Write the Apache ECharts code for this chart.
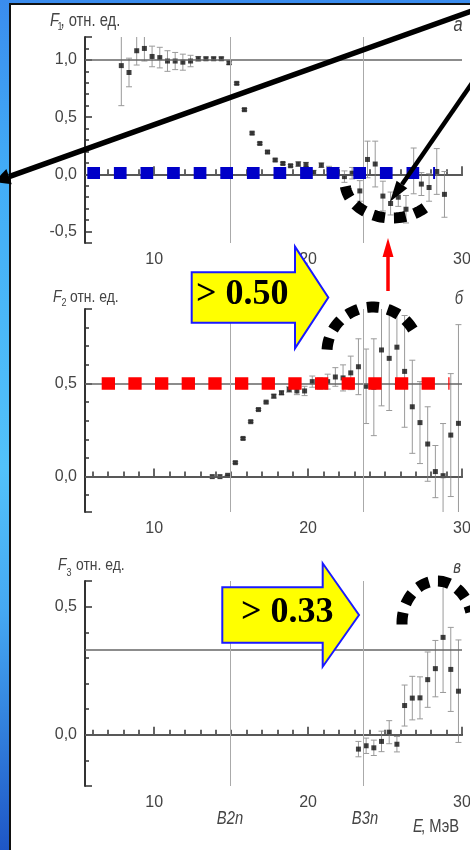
<!DOCTYPE html>
<html>
<head>
<meta charset="utf-8">
<script src="https://cdn.jsdelivr.net/npm/echarts@6/dist/echarts.min.js"></script>
<style>
  body { margin: 0; }
  #wrap {
    position: relative; width: 470px; height: 850px; overflow: hidden;
    background: linear-gradient(to bottom, #3a8cee 0%, #42acf6 20%, #52c2fa 55%, #45a8f2 72%, #1e56c6 100%);
  }
  #sheet {
    position: absolute; left: 9px; top: 3px; right: 0; bottom: 0; background: #fff;
    border-left: 2px solid #111; border-top: 2px solid #111;
  }
  #chart { position: absolute; left: 0; top: 0; width: 470px; height: 850px; }
</style>
</head>
<body>
<div id="wrap"><div id="sheet"></div><div id="chart"></div></div>
<script>
// панель а: F1 (E, МэВ)
const e1 = [7.86, 8.36, 8.86, 9.36, 9.86, 10.36, 10.86, 11.36, 11.86, 12.36, 12.86, 13.36, 13.86, 14.36, 14.86,
  15.36, 15.86, 16.36, 16.86, 17.36, 17.86, 18.36, 18.86, 19.36, 19.86, 20.36, 20.86, 21.36, 21.86, 22.36,
  22.86, 23.36, 23.86, 24.36, 24.86, 25.36, 25.86, 26.36, 26.86, 27.36, 27.86, 28.36, 28.86]
const f1 = [0.95, 0.89, 1.08, 1.10, 1.03, 1.02, 0.99, 0.99, 0.98, 0.99, 1.01, 1.01, 1.01, 1.01, 0.975,
  0.795, 0.565, 0.36, 0.27, 0.195, 0.125, 0.095, 0.075, 0.09, 0.085, 0.015, 0.08, 0.04, 0.02, -0.02,
  0.01, -0.145, 0.13, 0.09, -0.19, -0.255, -0.20, -0.305, 0.03, -0.085, -0.115, 0.025, -0.175]
const f1Err = [0.35, 0.125, 0.125, 0.11, 0.09, 0.09, 0.09, 0.075, 0.07, 0.05, 0.02, 0.015, 0.015, 0.015, 0.015,
  0.01, 0.01, 0.01, 0.01, 0.01, 0.01, 0.01, 0.01, 0.02, 0.02, 0.02, 0.02, 0.03, 0.04, 0.05,
  0.05, 0.09, 0.16, 0.2, 0.13, 0.1, 0.08, 0.12, 0.2, 0.1, 0.12, 0.2, 0.2]

// панель б: F2
const e2 = [13.77, 14.27, 14.77, 15.27, 15.77, 16.27, 16.77, 17.27, 17.77, 18.27, 18.77, 19.27, 19.77, 20.27,
  20.77, 21.27, 21.77, 22.27, 22.77, 23.27, 23.77, 24.27, 24.77, 25.27, 25.77, 26.27, 26.77, 27.27, 27.77,
  28.27, 28.77, 29.27, 29.77]
const f2 = [0, 0, 0.007, 0.075, 0.205, 0.295, 0.36, 0.40, 0.432, 0.45, 0.468, 0.46, 0.46, 0.51,
  0.50, 0.51, 0.535, 0.53, 0.557, 0.59, 0.485, 0.48, 0.68, 0.635, 0.695, 0.565, 0.375, 0.29, 0.175,
  0.027, 0.005, 0.223, 0.286]
const f2Err = [0, 0, 0, 0.005, 0.005, 0.005, 0.005, 0.005, 0.01, 0.01, 0.015, 0.02, 0.025, 0.03,
  0.03, 0.04, 0.05, 0.07, 0.09, 0.15, 0.2, 0.26, 0.3, 0.28, 0.2, 0.3, 0.25, 0.22, 0.2,
  0.14, 0.28, 0.33, 0.53]

// панель в: F3
const e3 = [23.27, 23.77, 24.27, 24.77, 25.27, 25.77, 26.27, 26.77, 27.27, 27.77, 28.27, 28.77, 29.27, 29.77]
const f3 = [-0.056, -0.043, -0.051, -0.026, 0.010, -0.037, 0.114, 0.143, 0.144, 0.215, 0.258, 0.38, 0.255, 0.17]
const f3Err = [0.03, 0.03, 0.03, 0.04, 0.045, 0.03, 0.08, 0.085, 0.082, 0.108, 0.11, 0.215, 0.164, 0.2]

// пороги B2n, B3n и опорные уровни
const thresholds = [14.95, 23.57]
const levels = [[1.0, 0.0], [0.5, 0.0], [0.33, 0.0]]
const xTickLabels = [10, 20, 30]
const yTickLabels = [[-0.5, 0, 0.5, 1], [0, 0.5], [0, 0.5]]

const FONT = '"Liberation Sans", Arial, sans-serif'
const SERIF = '"Liberation Serif", "Times New Roman", serif'
const INK = '#444'
const NARROW = 0.82   // исходный рисунок вытянут по вертикали

const grids = [
  { left: 85, top: 37, width: 377, height: 206 },
  { left: 85, top: 309, width: 377, height: 203 },
  { left: 85, top: 581, width: 377, height: 205 }
]
const yRanges = [[-0.6, 1.2, 4], [-0.19, 0.9, 2], [-0.2, 0.6, 2]]

const axisLineStyle = { color: '#333', width: 2 }
const tickStyle = { color: '#333', width: 1.5 }

const xAxes = grids.map((g, i) => ({
  type: 'value', gridIndex: i, min: 5.5, max: 30, splitNumber: 2,
  axisLine: { lineStyle: axisLineStyle },
  axisTick: { inside: true, length: 8, lineStyle: tickStyle },
  minorTick: { show: true, splitNumber: 10, length: 5, lineStyle: tickStyle },
  splitLine: { show: false },
  axisLabel: {
    margin: 9, color: INK, fontSize: 16, fontFamily: FONT,
    formatter: v => xTickLabels.includes(Math.round(v * 100) / 100) ? String(v) : ''
  }
}))

const yAxes = yRanges.map(([min, max, split], i) => ({
  type: 'value', gridIndex: i, min, max, splitNumber: split,
  axisLine: { show: true, lineStyle: axisLineStyle },
  axisTick: { show: true, inside: true, length: 7, lineStyle: tickStyle },
  minorTick: { show: true, splitNumber: 5, length: 4, lineStyle: tickStyle },
  splitLine: { show: false },
  axisLabel: {
    margin: 8, color: INK, fontSize: 16, fontFamily: FONT,
    formatter: v => {
      const r = Math.round(v * 100) / 100
      return yTickLabels[i].includes(r) ? r.toFixed(1).replace('.', ',') : ''
    }
  }
}))

// планки погрешностей
const errorBars = (i, xs, ys, errs) => ({
  type: 'custom', xAxisIndex: i, yAxisIndex: i, z: 2, silent: true, clip: true,
  data: xs.map((x, k) => [x, ys[k] - errs[k], ys[k] + errs[k]]),
  renderItem: (params, api) => {
    const lo = api.coord([api.value(0), api.value(1)])
    const hi = api.coord([api.value(0), api.value(2)])
    const st = { stroke: '#9a9a9a', lineWidth: 1 }
    return {
      type: 'group',
      children: [
        { type: 'line', shape: { x1: lo[0], y1: lo[1], x2: hi[0], y2: hi[1] }, style: st },
        { type: 'line', shape: { x1: lo[0] - 3, y1: lo[1], x2: lo[0] + 3, y2: lo[1] }, style: st },
        { type: 'line', shape: { x1: hi[0] - 3, y1: hi[1], x2: hi[0] + 3, y2: hi[1] }, style: st }
      ]
    }
  }
})

const points = (i, xs, ys) => ({
  type: 'scatter', xAxisIndex: i, yAxisIndex: i, z: 3, silent: true,
  symbol: 'rect', symbolSize: 5, itemStyle: { color: '#111' },
  data: xs.map((x, k) => [x, ys[k]])
})

// опорные линии (горизонтальные уровни и вертикальные пороги)
const guides = i => ({
  type: 'line', xAxisIndex: i, yAxisIndex: i, z: 1, data: [],
  markLine: {
    silent: true, symbol: 'none', label: { show: false }, animation: false,
    data: [
      ...levels[i].map(v => ({ yAxis: v, lineStyle: { color: '#666', width: 1.5, type: 'solid' } })),
      ...thresholds.map(v => ({ xAxis: v, lineStyle: { color: '#aaa', width: 1, type: 'solid' } }))
    ]
  }
})

// пунктир-подсветка уровней
const dashLevel = (i, from, to, y, color, width, dash) => ({
  type: 'line', xAxisIndex: i, yAxisIndex: i, z: 5, data: [],
  markLine: {
    silent: true, symbol: 'none', label: { show: false }, animation: false,
    lineStyle: { color, width, type: dash, cap: 'butt' },
    data: [[{ coord: [from, y] }, { coord: [to, y] }]]
  }
})

// --- аннотации ---
function arrow(x1, y1, x2, y2, width, headLen, headW, color) {
  const a = Math.atan2(y2 - y1, x2 - x1)
  const bx = x2 - headLen * Math.cos(a)
  const by = y2 - headLen * Math.sin(a)
  const px = -Math.sin(a) * headW / 2
  const py = Math.cos(a) * headW / 2
  return [
    { type: 'line', z: 100, shape: { x1, y1, x2: bx, y2: by }, style: { stroke: color, lineWidth: width } },
    { type: 'polygon', z: 100, shape: { points: [[x2, y2], [bx + px, by + py], [bx - px, by - py]] }, style: { fill: color } }
  ]
}

function dashedArc(cx, cy, rx, ry, a0, a1) {
  const pts = []
  for (let k = 0; k <= 48; k++) {
    const a = (a0 + (a1 - a0) * k / 48) * Math.PI / 180
    pts.push([cx + rx * Math.cos(a), cy + ry * Math.sin(a)])
  }
  return {
    type: 'polyline', z: 100, shape: { points: pts },
    style: { stroke: '#000', fill: null, lineWidth: 11, lineDash: [12, 9], lineCap: 'butt' }
  }
}

function bigArrow(pts, text, tx, ty, size) {
  return [
    { type: 'polygon', z: 100, shape: { points: pts }, style: { fill: '#ffff00', stroke: '#1a1aff', lineWidth: 2 } },
    {
      type: 'text', z: 101, x: tx, y: ty,
      style: {
        text, fill: '#000', fontFamily: SERIF, fontWeight: 'bold', fontSize: size,
        align: 'left', textAlign: 'left', verticalAlign: 'middle', textVerticalAlign: 'middle'
      }
    }
  ]
}

function label(text, x, y, size, opts = {}) {
  return {
    type: 'text', z: 50, x, y, scaleX: NARROW,
    style: Object.assign({
      text, fill: INK, fontFamily: FONT, fontSize: size,
      align: 'left', textAlign: 'left', verticalAlign: 'middle', textVerticalAlign: 'middle'
    }, opts)
  }
}

const italic = { fontStyle: 'italic' }
const centered = { align: 'center', textAlign: 'center', fontStyle: 'italic' }

const graphics = [
  // подписи осей
  label('F', 50, 20.5, 18, italic), label('1', 57.5, 27, 11), label(', отн. ед.', 60.5, 21.5, 18),
  label('F', 53, 297, 17, italic), label('2', 61.5, 302.5, 11), label('отн. ед.', 70, 297, 17),
  label('F', 58, 565.5, 17, italic), label('3', 66.5, 573, 11), label('отн. ед.', 76, 565.5, 17),
  label('а', 458, 25.5, 20, centered),
  label('б', 459, 298.5, 18, centered),
  label('в', 457, 568, 18, centered),
  label('B2n', 230, 818.5, 18, centered),
  label('B3n', 365, 818.5, 18, centered),
  label('E', 413, 827, 18, italic), label(', МэВ', 421, 827, 18),

  // пунктирные дуги
  dashedArc(392, 182, 47, 36, 173, 40),
  dashedArc(373, 352, 46, 45, 183, 340),
  dashedArc(437, 623, 35, 42, 178, 345),

  // жёлтые стрелки
  ...bigArrow([[191.7, 272.3], [295, 272.3], [295, 246.7], [328.3, 297.5], [295, 348.3], [295, 322.7], [191.7, 322.7]],
    '> 0.50', 196, 294.5, 36),
  ...bigArrow([[222.3, 587.3], [322.7, 587.3], [322.7, 563.3], [359, 615], [322.7, 666.7], [322.7, 642.7], [222.3, 642.7]],
    '> 0.33', 241, 612.5, 36),

  // чёрные и красная стрелки
  ...arrow(478, 8.8, -6, 182, 5.5, 16, 16, '#000'),
  ...arrow(473, 81.7, 390, 201.7, 4.5, 21, 13, '#000'),
  ...arrow(388, 291, 388, 238, 3.5, 19, 11, '#ff0000')
]

const chart = echarts.init(document.getElementById('chart'), null, { renderer: 'canvas' })
chart.setOption({
  backgroundColor: 'transparent',
  animation: false,
  grid: grids.map(g => Object.assign({ containLabel: false, outerBoundsMode: 'none' }, g)),
  xAxis: xAxes,
  yAxis: yAxes,
  series: [
    guides(0), guides(1), guides(2),
    errorBars(0, e1, f1, f1Err), errorBars(1, e2, f2, f2Err), errorBars(2, e3, f3, f3Err),
    points(0, e1, f1), points(1, e2, f2), points(2, e3, f3),
    dashLevel(0, 5.65, 28.25, 0.012, '#0000c8', 12, [12.7, 13.9]),
    dashLevel(1, 6.585, 29.19, 0.5, '#ff0000', 12.5, [13.3, 13.36])
  ],
  graphic: { elements: graphics }
})
</script>
</body>
</html>
